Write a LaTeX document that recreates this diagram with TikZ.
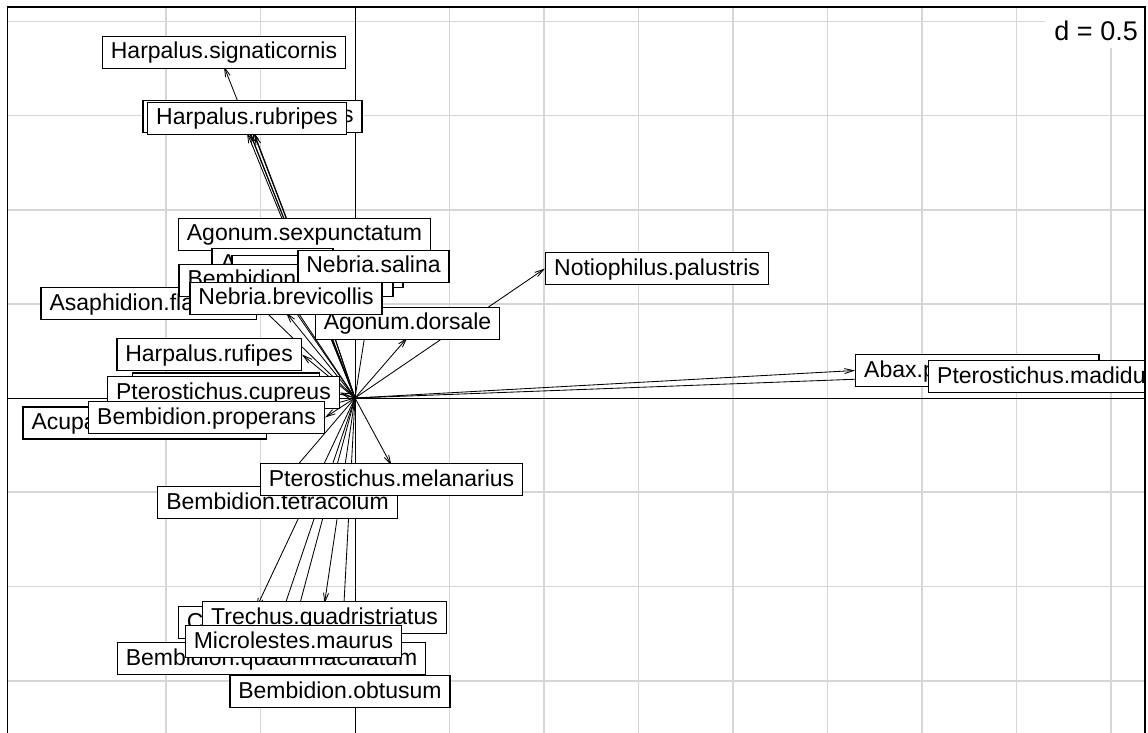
\documentclass[tikz,border=0pt]{standalone}
\usepackage{fontspec}
\setmainfont{Liberation Sans}
\usetikzlibrary{arrows.meta}
\definecolor{gridgray}{RGB}{214,214,214}
\begin{document}
\begin{tikzpicture}[x=1pt,y=-1pt,
  lab/.style={draw=black, line width=1.4pt, fill=white, inner xsep=8.5pt, inner ysep=0pt,
    minimum height=32pt, text height=17pt, text depth=4pt,
    font=\fontsize{23}{27}\selectfont},
  vec/.style={line width=0.85pt, -{Straight Barb[length=9pt,width=5pt]}},
  gridline/.style={gridgray, line width=1.2pt},
  axisline/.style={black, line width=1pt}]
\useasboundingbox (0,0) rectangle (1148,733);

\begin{scope}
\clip (7.5,7) rectangle (1145,745);
% background grid
\foreach \gx in {166,260.5,449.5,544,638.5,733,827.5,922,1016.5,1111}
  \draw[gridline] (\gx,0) -- (\gx,745);
\foreach \gy in {21.5,115.5,210,304,492,586.5,681}
  \draw[gridline] (0,\gy) -- (1148,\gy);
% axes through the origin
\coordinate (O) at (355,398);
\draw[axisline] (O |- 0,0) -- (O |- 0,745);
\draw[axisline] (O -| 0,0) -- (O -| 1148,0);

% arrow end points
\coordinate (tSig)  at (224,66.5);
\coordinate (tHidS) at (252.5,130.5);
\coordinate (tRub)  at (247,132.5);
\coordinate (tRubB) at (250,133.5);
\coordinate (tRubC) at (254.5,134);
\coordinate (tSexp) at (304.5,248.5);
\coordinate (tA1)   at (272.5,278.5);
\coordinate (tA2)   at (317.5,285.5);
\coordinate (tBem)  at (286,294.5);
\coordinate (tSal)  at (373.5,280.5);
\coordinate (tBrev) at (286,312.5);
\coordinate (tDors) at (407.5,337.5);
\coordinate (tAsa)  at (257,303.5);
\coordinate (tRufi) at (302,354.5);
\coordinate (tH2)   at (320,389);
\coordinate (tCup)  at (340,392.5);
\coordinate (tProp) at (325,417.5);
\coordinate (tAcu)  at (267,423);
\coordinate (tNot)  at (545,268.5);
\coordinate (tAbax) at (855,370.5);
\coordinate (tMad)  at (928,376.5);
\coordinate (tMel)  at (391.5,465.5);
\coordinate (tTet)  at (277.5,488.5);
\coordinate (tCli)  at (256,608.5);
\coordinate (tQuad) at (271.5,644.5);
\coordinate (tTre)  at (324.5,603.5);
\coordinate (tMic)  at (293.5,627.5);
\coordinate (tObt)  at (340,677.5);

% vectors
\foreach \t in {tSig,tHidS,tRub,tRubB,tRubC,tSexp,tA1,tA2,tBem,tSal,tBrev,tDors,tAsa,tRufi,tH2,
  tCup,tProp,tAcu,tNot,tAbax,tMad,tMel,tTet,tCli,tQuad,tTre,tMic,tObt}
  \draw[vec] (O) -- (\t);

% labels, upper group
\node[lab, anchor=south] (sig)  at ([yshift=-2.5pt]tSig)  {Harpalus.signaticornis};
\node[lab, anchor=south] (hids) at ([yshift=-2.5pt]tHidS) {\makebox[202pt][r]{s}};
\node[lab, anchor=south] (rub)  at ([yshift=-2.5pt]tRub)  {Harpalus.rubripes};
\node[lab, anchor=south] (sexp) at ([yshift=-2.5pt]tSexp) {Agonum.sexpunctatum};
\node[lab, anchor=south] (aone) at ([yshift=-2.5pt]tA1)   {\makebox[104pt][l]{A}};
\node[lab, anchor=south] (atwo) at ([yshift=-2.5pt]tA2)   {\makebox[154pt]{}};
\node[lab, anchor=east]  (asa)  at (tAsa)  {Asaphidion.flavipes};
\node[lab, anchor=south] (bem)  at ([yshift=-2.5pt]tBem)  {\makebox[197pt][l]{Bembidion}};
\node[lab, anchor=south] (sal)  at ([yshift=-2.5pt]tSal)  {Nebria.salina};
\node[lab, anchor=south] (dors) at ([yshift=-2.5pt]tDors) {Agonum.dorsale};
\node[lab, anchor=south] (brev) at ([yshift=-2.5pt]tBrev) {Nebria.brevicollis};
\node[lab, anchor=west]  (noti) at (tNot)  {Notiophilus.palustris};

% labels, left group
\node[lab, anchor=east] (rufi) at (tRufi) {Harpalus.rufipes};
\node[lab, anchor=east] (htwo) at (tH2)   {\makebox[170pt]{}};
\node[lab, anchor=east] (cup)  at (tCup)  {Pterostichus.cupreus};
\node[lab, anchor=east] (acu)  at (tAcu)  {Acupalpus.meridianus};
\node[lab, anchor=east] (prop) at (tProp) {Bembidion.properans};

% labels, right group
\node[lab, anchor=west] (abax) at (tAbax) {Abax.parallelepipedus};
\node[lab, anchor=west] (mad)  at (tMad)  {Pterostichus.madidus};

% labels, lower group
\node[lab, anchor=north] (tet)  at ([yshift=2.5pt]tTet)  {Bembidion.tetracolum};
\node[lab, anchor=north] (mel)  at ([yshift=2.5pt]tMel)  {Pterostichus.melanarius};
\node[lab, anchor=north] (cli)  at ([yshift=2.5pt]tCli)  {Clivina.fossor};
\node[lab, anchor=north] (quad) at ([yshift=2.5pt]tQuad) {Bembidion.quadrimaculatum};
\node[lab, anchor=north] (tre)  at ([yshift=2.5pt]tTre)  {Trechus.quadristriatus};
\node[lab, anchor=north] (mic)  at ([yshift=2.5pt]tMic)  {Microlestes.maurus};
\node[lab, anchor=north] (obt)  at ([yshift=2.5pt]tObt)  {Bembidion.obtusum};
\end{scope}

% scale legend and frame
\fill[white] (1045,7) rectangle (1145,48);
\node[anchor=base east, inner sep=0pt, font=\fontsize{27}{32}\selectfont] (dlab) at (1138,40.5) {d = 0.5};
\draw[black, line width=1.3pt] (7.5,745) -- (7.5,7) -- (1145,7) -- (1145,745);
\end{tikzpicture}
\end{document}
